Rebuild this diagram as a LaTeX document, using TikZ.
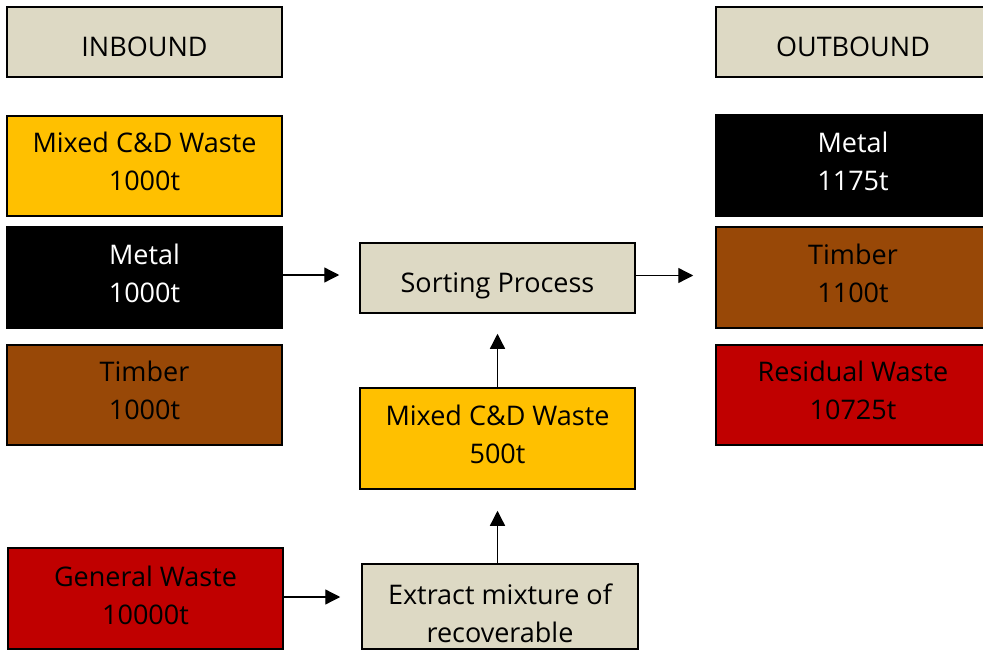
\documentclass[tikz,border=0pt]{standalone}
\usepackage{fontspec}
\setmainfont{Open Sans}
\usetikzlibrary{arrows.meta}
\definecolor{beige}{HTML}{DDD9C4}
\definecolor{gold}{HTML}{FFC000}
\definecolor{brownx}{HTML}{984807}
\definecolor{redx}{HTML}{C00000}
\newcommand\oneline[1]{\raisebox{-5pt}[19.3pt][0pt]{#1}}
\newcommand\twolines[3][2pt]{\raisebox{#1}[\height][\depth]{\begin{tabular}{@{}c@{}}#2\\#3\end{tabular}}}
\tikzset{
  box/.style={draw=black, line width=1.5pt, minimum width=275pt, inner sep=0pt,
    align=center, font=\fontsize{27}{38}\selectfont, text=black},
  arr/.style={line width=1.3pt, -{Triangle[length=15pt,width=15pt]}},
}
\begin{document}
\begin{tikzpicture}[x=1pt,y=-1pt]
\useasboundingbox (0,0) rectangle (983,650);
\fill[white] (0,0) rectangle (983,650);
% left column
\node[box, fill=beige, minimum height=70pt] (inb) at (144.5,42) {\oneline{INBOUND}};
\node[box, fill=gold, minimum height=100pt] (mix1) at (144.5,166) {\twolines{Mixed C\&D Waste}{1000t}};
\node[box, fill=black, text=white, minimum height=101pt] (met1) at (144.5,277.5) {\twolines{Metal}{1000t}};
\node[box, fill=brownx, minimum height=100pt] (tim1) at (144.5,395) {\twolines{Timber}{1000t}};
\node[box, fill=redx, minimum height=101pt] (gen) at (145.5,598.5) {\twolines[1pt]{General Waste}{10000t}};
% middle column
\node[box, fill=beige, minimum height=70pt] (sort) at (497.5,278) {\oneline{Sorting Process}};
\node[box, fill=gold, minimum height=101pt] (mix2) at (497.5,438.5) {\twolines{Mixed C\&D Waste}{500t}};
\node[box, fill=beige, minimum width=276pt, minimum height=85pt] (ext) at (500,606.5) {\twolines[-9pt]{Extract mixture of}{recoverable}};
% right column
\node[box, fill=beige, minimum width=274pt, minimum height=70pt] (outb) at (853,42) {\oneline{OUTBOUND}};
\node[box, fill=black, text=white, minimum width=274pt, minimum height=101pt] (met2) at (853,165.5) {\twolines{Metal}{1175t}};
\node[box, fill=brownx, minimum width=274pt, minimum height=101pt] (tim2) at (853,277.5) {\twolines{Timber}{1100t}};
\node[box, fill=redx, minimum width=274pt, minimum height=100pt] (res) at (853,395) {\twolines{Residual Waste}{10725t}};
% connectors
\draw[arr, shorten >=20pt] ([yshift=2.5pt]met1.east) -- ([yshift=2.5pt]met1.east -| sort.west);
\draw[arr, shorten >=22pt] ([yshift=2.5pt]sort.east) -- ([yshift=2.5pt]sort.east -| tim2.west);
\draw[arr, shorten >=20pt] (mix2.north) -- (sort.south);
\draw[arr, shorten >=21pt] (ext.north -| mix2.south) -- (mix2.south);
\draw[arr, shorten >=21pt] ([yshift=1.5pt]gen.east) -- ([yshift=1.5pt]gen.east -| ext.west);
\end{tikzpicture}
\end{document}
